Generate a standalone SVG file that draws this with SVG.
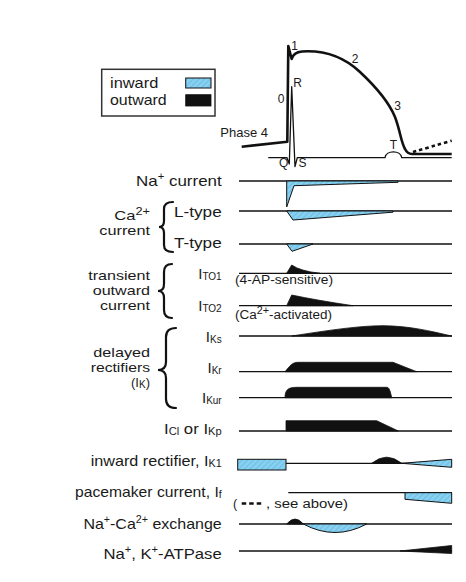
<svg xmlns="http://www.w3.org/2000/svg" width="466" height="582" viewBox="0 0 466 582">
<defs>
<pattern id="hatch" width="4" height="4" patternUnits="userSpaceOnUse" patternTransform="rotate(45)">
<rect width="4" height="4" fill="#88d0f0"/>
<line x1="0" y1="0" x2="0" y2="4" stroke="#5cb3df" stroke-width="1.3"/>
</pattern>
</defs>
<style>
text{font-family:"Liberation Sans",Arial,sans-serif;fill:#1a1a1a}
.lbl{font-size:15px;text-anchor:end}
.stk{font-size:13px;text-anchor:end}
.sm{font-size:12.5px}
.ph{font-size:12px;text-anchor:middle}
.sup{font-size:10px}
.sub{font-size:10px}
.base{stroke:#111;stroke-width:1.3;fill:none}
.in{fill:url(#hatch);stroke:#111;stroke-width:1}
.out{fill:#111;stroke:#111;stroke-width:0.8}
.brace{fill:none;stroke:#111;stroke-width:2.2;stroke-linecap:round}
.ap{fill:none;stroke:#111;stroke-width:2.6;stroke-linejoin:round}
.ecg{fill:none;stroke:#111;stroke-width:1.3;stroke-linejoin:round}
</style>

<g id="legend">
<rect x="101.7" y="69.3" width="113.3" height="46.7" fill="#fff" stroke="#333" stroke-width="1.5"/>
<text x="110" y="88" font-size="15" textLength="48.3" lengthAdjust="spacingAndGlyphs">inward</text>
<text x="110" y="105.3" font-size="15" textLength="56.7" lengthAdjust="spacingAndGlyphs">outward</text>
<rect x="185.7" y="78" width="25.3" height="10" class="in"/>
<rect x="185.7" y="94.7" width="25.3" height="11.3" class="out"/>
</g>

<g id="action-potential">
<path class="ecg" d="M268.3,157.7 L287,157.7 L289.3,164 L291.7,86.7 L295,166.7 L297.3,157.7 L385,157.7 C386,150 400.7,150 401.7,157.7 L451.7,157.7"/>
<path class="ap" d="M241.7,146.7 L287.3,141.7 L288.3,46 L291.7,59 C293,54 296,52 302,51.5 C325,50 345,58 360,72 C375,86 388,100 395,117 C400,130 401,142 405,149 C407,153 409,154 412,154 L451.7,154"/>
<path d="M413,152 Q430,147 451.7,140.7" fill="none" stroke="#111" stroke-width="2.6" stroke-dasharray="3.5 3"/>
<text class="ph" x="294.5" y="50">1</text>
<text class="ph" x="355" y="63.3">2</text>
<text class="ph" x="397.7" y="110">3</text>
<text class="ph" x="281" y="102.7">0</text>
<text class="ph" x="297.5" y="86.7">R</text>
<text class="ph" x="283.7" y="166.7">Q</text>
<text class="ph" x="302.5" y="166.7">S</text>
<text class="ph" x="393.3" y="149">T</text>
<text x="268" y="137" font-size="13" text-anchor="end">Phase 4</text>
</g>

<g id="labels">
<text class="lbl" x="221.7" y="185.5" textLength="85.7" lengthAdjust="spacingAndGlyphs">Na<tspan class="sup" dy="-6">+</tspan><tspan dy="6"> current</tspan></text>
<text class="lbl" x="221.7" y="216.5" textLength="47.7" lengthAdjust="spacingAndGlyphs">L-type</text>
<text class="lbl" x="221.7" y="247.5" textLength="47.7" lengthAdjust="spacingAndGlyphs">T-type</text>
<text class="stk" x="150" y="220" textLength="35.7" lengthAdjust="spacingAndGlyphs">Ca<tspan class="sup" dy="-5">2+</tspan></text>
<text class="stk" x="150" y="235" textLength="50.7" lengthAdjust="spacingAndGlyphs">current</text>
<text class="stk" x="150" y="280" textLength="61.7" lengthAdjust="spacingAndGlyphs">transient</text>
<text class="stk" x="150" y="295" textLength="57.3" lengthAdjust="spacingAndGlyphs">outward</text>
<text class="stk" x="150" y="309.5" textLength="50" lengthAdjust="spacingAndGlyphs">current</text>
<text class="lbl" x="221.7" y="278.5">I<tspan class="sub" dy="1">TO1</tspan></text>
<text class="lbl" x="221.7" y="310.5">I<tspan class="sub" dy="1">TO2</tspan></text>
<text class="stk" x="150" y="357" textLength="56.7" lengthAdjust="spacingAndGlyphs">delayed</text>
<text class="stk" x="150" y="371.5" textLength="59.3" lengthAdjust="spacingAndGlyphs">rectifiers</text>
<text class="stk" x="150" y="386.5">(I<tspan class="sub" dy="1">K</tspan><tspan dy="-1">)</tspan></text>
<text class="lbl" x="221.7" y="341.5">I<tspan class="sub" dy="1">Ks</tspan></text>
<text class="lbl" x="221.7" y="373">I<tspan class="sub" dy="1">Kr</tspan></text>
<text class="lbl" x="221.7" y="403">I<tspan class="sub" dy="1">Kur</tspan></text>
<text class="lbl" x="221.7" y="434" textLength="57.7" lengthAdjust="spacingAndGlyphs">I<tspan class="sub" dy="1">Cl</tspan><tspan dy="-1"> or I</tspan><tspan class="sub" dy="1">Kp</tspan></text>
<text class="lbl" x="221.7" y="466" textLength="131" lengthAdjust="spacingAndGlyphs">inward rectifier, I<tspan class="sub" dy="1">K1</tspan></text>
<text class="lbl" x="221.7" y="497" textLength="146.7" lengthAdjust="spacingAndGlyphs">pacemaker current, I<tspan class="sub" dy="1">f</tspan></text>
<text class="lbl" x="221.7" y="529" textLength="138.3" lengthAdjust="spacingAndGlyphs">Na<tspan class="sup" dy="-6">+</tspan><tspan dy="6">-Ca</tspan><tspan class="sup" dy="-6">2+</tspan><tspan dy="6"> exchange</tspan></text>
<text class="lbl" x="221.7" y="558.5" textLength="118.3" lengthAdjust="spacingAndGlyphs">Na<tspan class="sup" dy="-6">+</tspan><tspan dy="6">, K</tspan><tspan class="sup" dy="-6">+</tspan><tspan dy="6">-ATPase</tspan></text>
<text class="sm" x="235" y="284" textLength="98" lengthAdjust="spacingAndGlyphs">(4-AP-sensitive)</text>
<text class="sm" x="235" y="319" textLength="97" lengthAdjust="spacingAndGlyphs">(Ca<tspan class="sup" dy="-5">2+</tspan><tspan dy="5">-activated)</tspan></text>
<text class="sm" x="233" y="507.5">(</text>
<line x1="241.7" y1="503.5" x2="263" y2="503.5" stroke="#111" stroke-width="2.5" stroke-dasharray="4.5 3"/>
<text class="sm" x="266" y="507.5" textLength="82" lengthAdjust="spacingAndGlyphs">, see above)</text>
</g>

<g id="braces">
<path class="brace" d="M173,202 Q164,202 164,209 L164,221 Q164,227 159,227 Q164,227 164,233 L164,245 Q164,252 173,252"/>
<path class="brace" d="M172,264 Q164,264 164,272 L164,284 Q164,291 158,291 Q164,291 164,298 L164,310 Q164,318 172,318"/>
<path class="brace" d="M176,328 Q166,328 166,337 L166,362 Q166,370 158,370 Q166,370 166,378 L166,399 Q166,408 176,408"/>
</g>

<g id="connectors">
<line class="base" x1="239" y1="181" x2="452" y2="181"/>
<line class="base" x1="239" y1="211" x2="452" y2="211"/>
<line class="base" x1="239" y1="244" x2="452" y2="244"/>
<line class="base" x1="239" y1="273.3" x2="452" y2="273.3"/>
<line class="base" x1="239" y1="305.7" x2="452" y2="305.7"/>
<line class="base" x1="239" y1="336" x2="452" y2="336"/>
<line class="base" x1="239" y1="371.7" x2="452" y2="371.7"/>
<line class="base" x1="239" y1="397.7" x2="452" y2="397.7"/>
<line class="base" x1="239" y1="431" x2="452" y2="431"/>
<line class="base" x1="286" y1="463.3" x2="452" y2="463.3"/>
<line class="base" x1="288.3" y1="492.7" x2="452" y2="492.7"/>
<line class="base" x1="239" y1="524" x2="452" y2="524"/>
<line class="base" x1="239" y1="551" x2="452" y2="551"/>
</g>

<g id="currents">
<path class="in" d="M286.7,181 L286.7,207 L294,185.7 L398,182.3 L398,181 Z"/>
<path class="in" d="M286.7,211 L293,220 L393,212.2 L393,211 Z"/>
<path class="in" d="M286.7,244 L292,251.3 L313,244 Z"/>
<path class="out" d="M286.7,273.3 L291.7,265 Q300,271 320,273.3 Z"/>
<path class="out" d="M286.7,305.7 L291.7,295 Q315,300 353,305.7 Z"/>
<path class="out" d="M291.7,336 C330,330 360,325.7 383,325.7 C410,326 430,331 451.7,336 Z"/>
<path class="out" d="M285,371.7 C290,366 292,362.3 298,362.3 L393,362.3 L416.7,371.7 Z"/>
<path class="out" d="M285,397.7 C285,390 288,387.3 296.7,387.3 L386.7,387.3 C389,387.3 390,390 391.7,397.7 Z"/>
<path class="out" d="M286,431 L286,420.7 L376.7,420.7 L398.3,431 Z"/>
<rect class="in" x="237.7" y="459.3" width="48.3" height="10.7"/>
<path class="out" d="M371.7,463.3 Q386.7,451 401.7,463.3 Z"/>
<path class="in" d="M401.7,463.3 L451.7,459.3 L451.7,467.3 Z"/>
<path class="in" d="M405,492.7 L451.7,492.7 L451.7,503.3 L405,499.3 Z"/>
<path class="out" d="M286.7,524 Q295,514 303.3,524 Z"/>
<path class="in" d="M303.3,524 Q335,541 366.7,524 Z"/>
<path class="out" d="M400,551 L451.7,545.5 L451.7,553.5 Z"/>
</g>
</svg>
